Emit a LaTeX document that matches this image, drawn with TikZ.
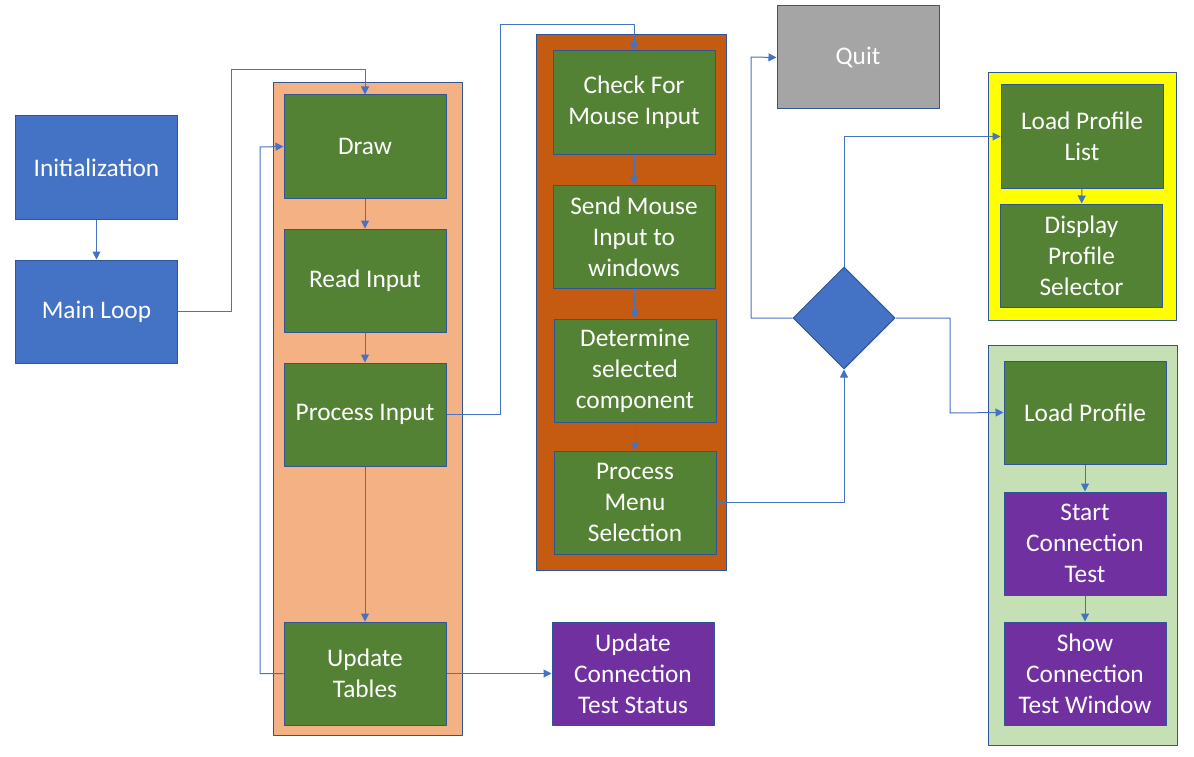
\documentclass[tikz,border=0pt]{standalone}
\usepackage{fontspec}
\setmainfont{Carlito}
\usetikzlibrary{arrows.meta,shapes.geometric}
\definecolor{cblue}{HTML}{4472C4}
\definecolor{cedge}{HTML}{2F5597}
\definecolor{cgreen}{HTML}{548235}
\definecolor{cpeach}{HTML}{F4B183}
\definecolor{crust}{HTML}{C55A11}
\definecolor{cpurple}{HTML}{7030A0}
\definecolor{cgray}{HTML}{A5A5A5}
\definecolor{cyel}{HTML}{FFFF00}
\definecolor{cmint}{HTML}{C5E0B4}
\tikzset{
  box/.style={draw=cedge, line width=.75pt, text=white, align=center,
    minimum width=121.5pt, minimum height=77.25pt, inner sep=2pt,
    font=\fontsize{19}{23.25}\selectfont},
  bluebox/.style={box, fill=cblue},
  greenbox/.style={box, fill=cgreen},
  purplebox/.style={box, fill=cpurple},
  graybox/.style={box, fill=cgray},
  group/.style={draw=cedge, line width=.75pt},
  arr/.style={draw=cblue, line width=.75pt, -{Triangle[length=6pt,width=6pt]}}
}
\begin{document}
\begin{tikzpicture}[x=.75pt, y=-.75pt, line join=round]
  \useasboundingbox (0,0) rectangle (1194,756);
  % groups
  \filldraw[group, fill=cpeach] (273,83) rectangle (462,735);
  \filldraw[group, fill=crust] (536,35) rectangle (726,570);
  \filldraw[group, fill=cyel] (988,73) rectangle (1176,320);
  \filldraw[group, fill=cmint] (988,345) rectangle (1177,745);
  % boxes
  \node[bluebox] (init) at (96.5,167.5) {Initialization};
  \node[bluebox] (main) at (96.5,311.5) {Main Loop};
  \node[greenbox] (draw) at (365,146.5) {Draw};
  \node[greenbox] (read) at (365,280.5) {Read Input};
  \node[greenbox] (proc) at (365,414.5) {Process Input};
  \node[greenbox] (upd) at (365,673.5) {Update\\Tables};
  \node[purplebox] (stat) at (633,673.5) {Update\\Connection\\Test Status};
  \node[greenbox] (check) at (634,102.5) {Check For\\Mouse Input};
  \node[greenbox] (send) at (634,236.5) {Send Mouse\\Input to\\windows};
  \node[greenbox] (det) at (635,370.5) {Determine\\selected\\component};
  \node[greenbox] (menu) at (635,502.5) {Process\\Menu\\Selection};
  \node[graybox] (quit) at (858,57.5) {Quit};
  \node[diamond, draw=cedge, line width=.75pt, fill=cblue, inner sep=0pt,
    minimum width=76.5pt, minimum height=76.5pt] (dec) at (844,318) {};
  \node[greenbox] (lpl) at (1082,136.5) {Load Profile\\List};
  \node[greenbox] (dps) at (1081.5,255.5) {Display\\Profile\\Selector};
  \node[greenbox] (lp) at (1085,412.5) {Load Profile};
  \node[purplebox] (sct) at (1085,543.5) {Start\\Connection\\Test};
  \node[purplebox] (win) at (1085,673.5) {Show\\Connection\\Test Window};
  % connectors
  \foreach \a/\b in {init/main, draw/read, read/proc, proc/upd, check/send,
    send/det, det/menu, lpl/dps, lp/sct, sct/win}
    \draw[arr] (\a) -- (\b);
  \draw[arr] (main.east) -| (231,70) -| (draw.north);
  \draw[arr] (upd.west) -| (260,147) -- (draw.west);
  \draw[arr] (upd.east) -- (stat.west);
  \draw[arr] (proc.east) -| (500,25) -| (check.north);
  \draw[arr] (menu.east) -| (dec.south);
  \draw[arr] (dec.west) -| (751,57) -- (quit.west);
  \draw[arr] (dec.north) |- (lpl.west);
  \draw[arr] (dec.east) -| (950,413) -- (lp.west);
\end{tikzpicture}
\end{document}
